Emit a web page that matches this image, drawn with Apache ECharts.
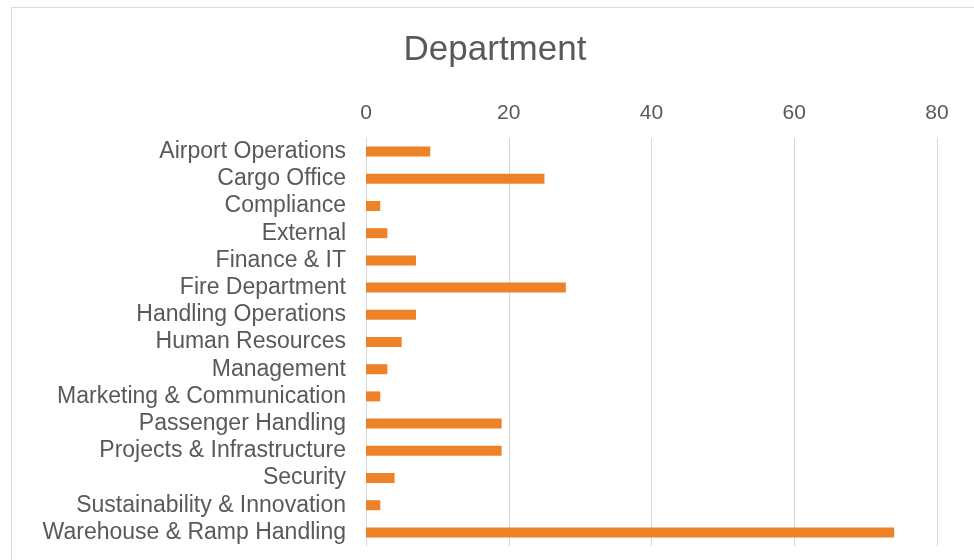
<!DOCTYPE html>
<html>
<head>
<meta charset="utf-8">
<script src="https://cdn.jsdelivr.net/npm/echarts@6/dist/echarts.min.js"></script>
<style>
html,body{margin:0;padding:0;background:#fff;}
#c{width:974px;height:560px;}
</style>
</head>
<body>
<div id="c"></div>
<script>
const categories = ["Airport Operations","Cargo Office","Compliance","External","Finance & IT","Fire Department","Handling Operations","Human Resources","Management","Marketing & Communication","Passenger Handling","Projects & Infrastructure","Security","Sustainability & Innovation","Warehouse & Ramp Handling"];
const values = [9,25,2,3,7,28,7,5,3,2,19,19,4,2,74];
const tickMin = 0, tickMax = 80, tickStep = 20;

const chart = echarts.init(document.getElementById('c'));
chart.setOption({
  backgroundColor:'#fff',
  animation:false,
  graphic:[{type:'rect',shape:{x:11.5,y:7.5,width:1000,height:600},style:{fill:'none',stroke:'#d9d9d9',lineWidth:1},silent:true}],
  title:{text:'Department',left:490,top:28,textAlign:'center',textStyle:{fontFamily:'Liberation Sans',fontSize:35,fontWeight:'normal',color:'#595959'}},
  grid:{left:366,right:37,top:138,bottom:14,containLabel:false},
  xAxis:{type:'value',position:'top',min:tickMin,max:tickMax,interval:tickStep,
    axisLine:{show:false},axisTick:{show:false},
    axisLabel:{fontFamily:'Liberation Sans',fontSize:21,color:'#595959',margin:14},
    splitLine:{lineStyle:{color:'#d9d9d9',width:1}}},
  yAxis:{type:'category',data:categories,inverse:true,
    axisLine:{show:true,lineStyle:{color:'#d9d9d9'}},axisTick:{show:false},
    axisLabel:{interval:0,fontFamily:'Liberation Sans',fontSize:23,color:'#595959',margin:20}},
  series:[{type:'bar',data:values,barWidth:10,itemStyle:{color:'#EE8229'}}]
});
</script>
</body>
</html>
